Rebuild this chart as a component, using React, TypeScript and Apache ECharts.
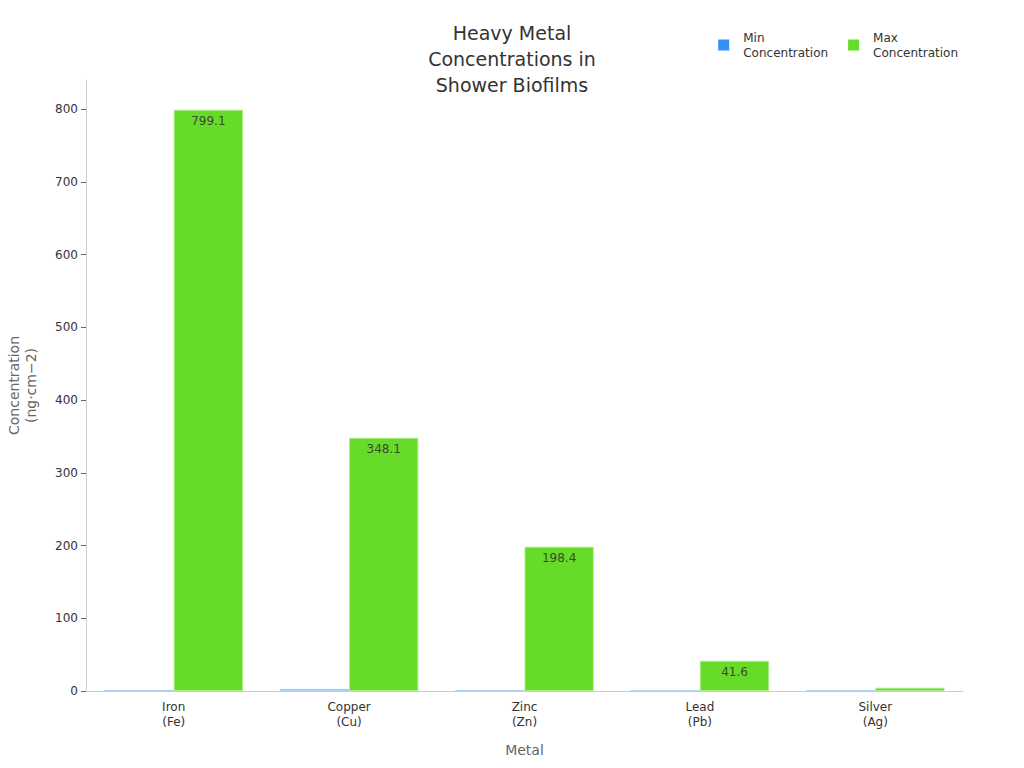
import { useEffect, useRef } from 'react';
import * as echarts from 'echarts';

const metals = ['Iron\n(Fe)', 'Copper\n(Cu)', 'Zinc\n(Zn)', 'Lead\n(Pb)', 'Silver\n(Ag)'];
const minValues = [0.7, 2.9, 0.6, 0.1, 0.05];
const maxValues = [799.1, 348.1, 198.4, 41.6, 4.5];
const yTicks = [0, 100, 200, 300, 400, 500, 600, 700, 800];

const FONT = 'DejaVu Sans';

export default function App() {
  const ref = useRef<HTMLDivElement>(null);

  useEffect(() => {
    if (!ref.current) return;
    const chart = echarts.init(ref.current, undefined, { renderer: 'svg' });
    chart.setOption({
      animation: false,
      textStyle: { fontFamily: FONT },
      title: {
        text: 'Heavy Metal\nConcentrations in\nShower Biofilms',
        left: 'center',
        top: 15,
        textStyle: { fontSize: 19, fontWeight: 'normal', color: '#333', lineHeight: 26, fontFamily: FONT },
      },
      legend: {
        top: 25,
        right: 61,
        itemWidth: 11,
        itemHeight: 11,
        itemGap: 20,
        icon: 'rect',
        textStyle: { fontSize: 12, color: '#333', lineHeight: 15, padding: [0, 0, 0, 9], fontFamily: FONT },
        data: [
          { name: 'Min\nConcentration', itemStyle: { color: '#3391f5', borderWidth: 0 } },
          { name: 'Max\nConcentration', itemStyle: { color: '#66db28', borderWidth: 0 } },
        ],
      },
      grid: { left: 86, right: 61, top: 80, bottom: 77, containLabel: false, outerBoundsMode: 'none' },
      xAxis: {
        type: 'category',
        data: metals,
        name: 'Metal',
        nameLocation: 'middle',
        nameGap: 52,
        nameTextStyle: { fontSize: 14, color: '#666', fontFamily: FONT },
        axisLine: { lineStyle: { color: '#ccc' } },
        axisTick: { alignWithLabel: true, length: 5, lineStyle: { color: '#666' } },
        axisLabel: { fontSize: 12, color: '#333', lineHeight: 15, margin: 8, fontFamily: FONT },
      },
      yAxis: {
        type: 'value',
        min: 0,
        max: 840,
        interval: 100,
        name: 'Concentration\n(ng·cm−2)',
        nameLocation: 'middle',
        nameGap: 47,
        nameRotate: 90,
        nameTextStyle: { fontSize: 14, color: '#666', lineHeight: 17, fontFamily: FONT },
        splitLine: { show: false },
        axisLine: { show: true, lineStyle: { color: '#ccc' } },
        axisTick: { show: true, length: 5, lineStyle: { color: '#666' }, customValues: yTicks },
        axisLabel: { fontSize: 12, color: '#333', margin: 8, customValues: yTicks, fontFamily: FONT },
      },
      series: [
        {
          name: 'Min\nConcentration',
          type: 'bar',
          data: minValues,
          barGap: '0%',
          barCategoryGap: '21%',
          itemStyle: { color: '#3391f5', borderColor: '#a9cdf5', borderWidth: 1 },
        },
        {
          name: 'Max\nConcentration',
          type: 'bar',
          data: maxValues,
          barGap: '0%',
          barCategoryGap: '21%',
          itemStyle: { color: '#66db28', borderColor: '#a8ec84', borderWidth: 1 },
          label: {
            show: true,
            position: 'insideTop',
            distance: 5,
            fontSize: 12,
            color: '#3d4a30',
            fontFamily: FONT,
            formatter: (p: any) => (p.value >= 10 ? p.value.toFixed(1) : ''),
          },
        },
      ],
    });
    return () => chart.dispose();
  }, []);

  return <div ref={ref} style={{ position: 'absolute', left: 0, top: 0, width: 1024, height: 768 }} />;
}
